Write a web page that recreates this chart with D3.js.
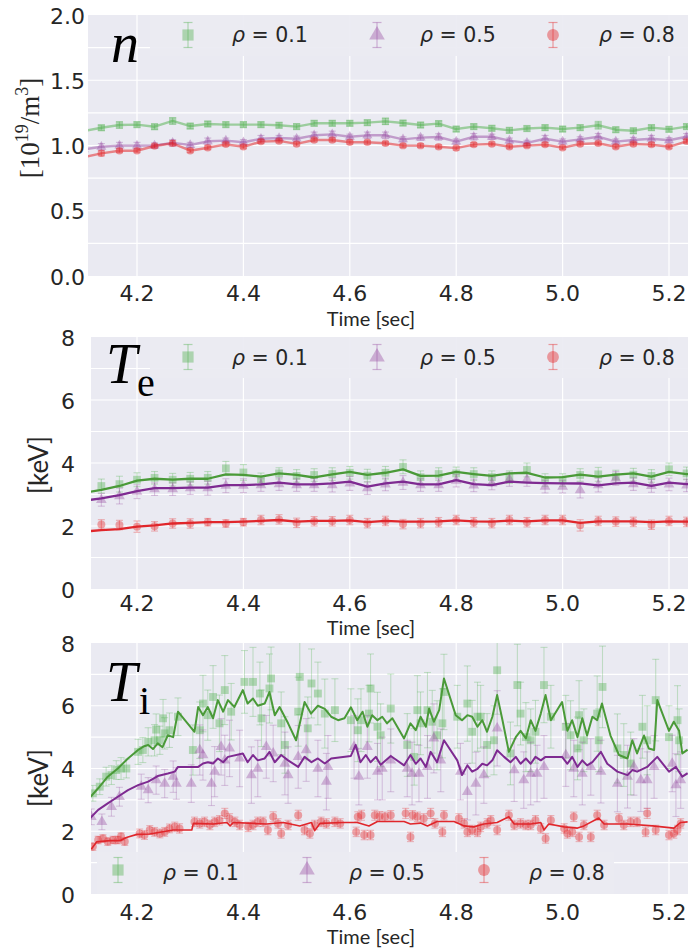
<!DOCTYPE html>
<html><head><meta charset="utf-8">
<script src="https://cdn.jsdelivr.net/npm/d3@7"></script>
<style>body{margin:0;background:#fff} svg{display:block}</style>
</head><body><svg id="c" width="688" height="951"></svg>
<script>
// ---------------- DATA ----------------
const xTicks = [4.2, 4.4, 4.6, 4.8, 5.0, 5.2];
const nTicks = [0.0, 0.5, 1.0, 1.5, 2.0];
const nGrid = [0.25, 0.5, 0.75, 1.0, 1.25, 1.5, 1.75];
const tTicks = [0, 2, 4, 6, 8];
const tGrid = [1, 2, 3, 4, 5, 6, 7];
const seriesLabels = ["0.1", "0.5", "0.8"];

// profile times (panels n and Te)
const tP = [4.100,4.133,4.167,4.200,4.233,4.267,4.300,4.333,4.367,4.400,4.433,4.467,4.500,4.533,4.567,4.600,4.633,4.667,4.700,4.733,4.767,4.800,4.833,4.867,4.900,4.933,4.967,5.000,5.033,5.067,5.100,5.133,5.167,5.200,5.233,5.267];

// density [1e19/m3]
const nGreen  = [1.11,1.136,1.157,1.16,1.144,1.188,1.149,1.165,1.16,1.16,1.16,1.155,1.145,1.17,1.17,1.17,1.175,1.185,1.172,1.157,1.168,1.126,1.145,1.132,1.116,1.13,1.137,1.126,1.137,1.155,1.121,1.113,1.137,1.124,1.145,1.15];
const nPurple = [0.97,0.99,0.999,0.999,1.0,1.02,1.004,1.032,1.037,1.025,1.052,1.057,1.052,1.078,1.085,1.067,1.078,1.078,1.047,1.06,1.065,1.03,1.067,1.067,1.037,1.02,1.052,1.03,1.047,1.067,1.03,1.042,1.052,1.04,1.067,1.07];
const nRed    = [0.91,0.94,0.96,0.96,0.996,1.017,0.96,0.983,1.009,0.99,1.03,1.035,1.012,1.042,1.042,1.025,1.025,1.017,0.999,0.999,0.99,0.98,1.007,1.012,0.99,0.999,1.007,0.983,1.012,1.017,0.99,1.012,1.007,0.99,1.032,1.04];
const nGreenErr  = [0.02,0.02,0.025,0.02,0.02,0.025,0.02,0.02,0.02,0.02,0.02,0.02,0.02,0.02,0.02,0.02,0.02,0.025,0.02,0.02,0.02,0.02,0.02,0.02,0.02,0.02,0.02,0.02,0.02,0.03,0.02,0.02,0.02,0.02,0.02,0.02];
const nPurpleErr = [0.02,0.025,0.025,0.025,0.02,0.025,0.02,0.025,0.02,0.02,0.025,0.02,0.02,0.025,0.025,0.02,0.025,0.025,0.02,0.02,0.025,0.02,0.025,0.02,0.02,0.02,0.025,0.02,0.02,0.025,0.02,0.02,0.025,0.02,0.025,0.02];
const nRedErr    = [0.015,0.02,0.015,0.015,0.015,0.02,0.015,0.015,0.015,0.015,0.015,0.015,0.015,0.015,0.015,0.015,0.015,0.015,0.015,0.015,0.015,0.015,0.015,0.015,0.015,0.015,0.015,0.015,0.015,0.015,0.015,0.015,0.015,0.015,0.015,0.015];

// electron temperature [keV]: data points and profile lines
const teGreen  = [3.15,3.27,3.33,3.47,3.53,3.47,3.50,3.53,3.83,3.70,3.48,3.67,3.59,3.62,3.65,3.69,3.60,3.69,3.88,3.55,3.65,3.67,3.65,3.55,3.55,3.78,3.46,3.46,3.62,3.64,3.57,3.63,3.59,3.80,3.67,3.62];
const tePurple = [2.75,2.83,2.95,3.09,3.17,3.17,3.20,3.20,3.28,3.28,3.30,3.33,3.30,3.30,3.30,3.35,3.20,3.32,3.38,3.30,3.30,3.44,3.29,3.35,3.48,3.48,3.25,3.25,3.14,3.30,3.51,3.33,3.27,3.32,3.29,3.30];
const teRed    = [2.00,2.05,2.03,1.98,1.99,2.08,2.08,2.12,2.08,2.12,2.19,2.21,2.10,2.15,2.15,2.19,2.09,2.16,2.06,2.09,2.12,2.19,2.12,2.09,2.19,2.12,2.19,2.19,2.02,2.16,2.14,2.13,2.04,2.16,2.13,2.15];
const teGreenErr  = [0.2,0.22,0.25,0.22,0.2,0.2,0.2,0.2,0.22,0.25,0.2,0.18,0.2,0.2,0.2,0.2,0.2,0.2,0.22,0.2,0.2,0.2,0.2,0.2,0.2,0.22,0.2,0.2,0.2,0.22,0.2,0.2,0.2,0.2,0.2,0.2];
const tePurpleErr = [0.2,0.2,0.25,0.22,0.2,0.2,0.2,0.22,0.22,0.22,0.2,0.2,0.2,0.2,0.22,0.22,0.2,0.2,0.22,0.2,0.2,0.2,0.2,0.2,0.22,0.22,0.2,0.2,0.25,0.22,0.22,0.2,0.2,0.2,0.2,0.2];
const teRedErr    = [0.15,0.15,0.15,0.18,0.15,0.15,0.15,0.12,0.12,0.12,0.15,0.15,0.15,0.15,0.15,0.15,0.15,0.15,0.15,0.15,0.15,0.15,0.15,0.15,0.15,0.15,0.15,0.15,0.18,0.15,0.15,0.15,0.15,0.15,0.15,0.15];
const teGreenFit  = [3.05,3.15,3.27,3.44,3.50,3.47,3.50,3.50,3.64,3.62,3.57,3.67,3.62,3.54,3.64,3.72,3.62,3.69,3.80,3.59,3.60,3.72,3.65,3.59,3.67,3.69,3.54,3.55,3.63,3.57,3.63,3.67,3.57,3.72,3.65,3.62];
const tePurpleFit = [2.80,2.88,2.98,3.11,3.20,3.20,3.22,3.22,3.30,3.30,3.32,3.38,3.32,3.32,3.35,3.41,3.25,3.35,3.41,3.32,3.32,3.46,3.33,3.30,3.41,3.38,3.36,3.35,3.35,3.29,3.35,3.38,3.27,3.38,3.33,3.30];
const teRedFit    = [1.82,1.87,1.90,1.98,2.02,2.08,2.10,2.12,2.12,2.14,2.16,2.19,2.14,2.16,2.16,2.18,2.12,2.16,2.14,2.14,2.15,2.18,2.15,2.14,2.17,2.15,2.18,2.18,2.10,2.15,2.15,2.15,2.12,2.15,2.14,2.14];

// ion temperature [keV]: points [time, value, error]
const tiGreenPts = [[4.117,3.21,0.25],[4.130,3.42,0.25],[4.142,3.74,0.3],[4.152,3.79,0.3],[4.161,3.95,0.3],[4.170,4.00,0.35],[4.180,4.00,0.3],[4.202,4.53,0.4],[4.211,4.59,0.4],[4.221,4.85,0.45],[4.233,4.90,0.5],[4.236,5.24,0.5],[4.243,4.90,0.45],[4.249,5.60,0.6],[4.252,5.12,0.5],[4.261,5.22,0.55],[4.277,5.65,0.6],[4.305,4.59,0.8],[4.318,5.22,0.9],[4.324,6.07,0.9],[4.333,5.70,0.8],[4.343,6.28,1.0],[4.355,5.44,0.9],[4.365,6.50,1.1],[4.377,5.81,0.9],[4.402,6.76,1.0],[4.418,6.76,1.1],[4.431,6.39,1.0],[4.434,5.60,0.9],[4.449,6.55,1.1],[4.452,6.87,1.0],[4.471,5.44,1.0],[4.478,4.75,0.9],[4.503,5.81,1.1],[4.506,6.92,1.2],[4.521,5.28,1.0],[4.528,6.71,1.1],[4.540,6.39,1.0],[4.553,5.75,1.1],[4.572,5.86,1.0],[4.602,5.54,1.0],[4.615,5.22,1.0],[4.621,5.54,1.0],[4.636,5.75,0.9],[4.639,6.55,1.1],[4.652,5.33,1.1],[4.658,5.06,1.0],[4.677,5.91,1.1],[4.708,4.75,1.0],[4.721,4.37,0.9],[4.727,5.86,1.1],[4.733,5.44,1.0],[4.746,5.86,1.2],[4.755,5.49,1.0],[4.764,5.06,1.1],[4.774,5.44,1.1],[4.777,6.44,1.2],[4.802,5.65,1.0],[4.821,6.07,1.2],[4.830,5.17,1.0],[4.840,5.65,1.1],[4.846,5.65,1.0],[4.858,4.75,1.0],[4.871,4.90,1.1],[4.877,7.13,1.4],[4.902,4.48,1.0],[4.915,6.66,1.3],[4.921,5.75,1.0],[4.931,5.00,1.1],[4.940,4.90,1.0],[4.949,5.17,1.0],[4.965,6.66,1.2],[4.978,5.65,1.0],[5.006,5.33,1.0],[5.015,5.06,1.1],[5.028,4.64,1.0],[5.031,5.70,1.1],[5.040,4.90,1.0],[5.065,5.75,1.2],[5.068,4.90,1.0],[5.075,6.60,1.3],[5.103,4.64,1.1],[5.115,4.43,1.0],[5.128,4.16,1.0],[5.150,5.33,1.0],[5.159,4.90,1.1],[5.175,6.18,1.3],[5.200,5.00,1.0],[5.216,5.54,1.1],[5.219,4.90,1.0]];
const tiPurplePts = [[4.114,2.46,0.25],[4.134,2.30,0.25],[4.152,2.78,0.3],[4.167,3.10,0.3],[4.208,3.42,0.4],[4.221,3.31,0.4],[4.236,3.63,0.45],[4.252,3.52,0.45],[4.268,3.74,0.5],[4.274,3.52,0.5],[4.302,3.52,0.6],[4.318,4.59,0.8],[4.324,4.43,0.8],[4.340,3.52,0.7],[4.346,3.90,0.8],[4.358,4.69,0.9],[4.365,4.26,0.8],[4.374,4.64,0.9],[4.393,4.32,0.9],[4.415,3.79,0.9],[4.427,4.00,0.9],[4.443,4.69,1.0],[4.456,4.48,0.9],[4.478,4.16,1.0],[4.484,3.79,0.9],[4.503,4.37,1.0],[4.518,4.59,1.0],[4.540,4.00,0.9],[4.556,3.58,0.9],[4.559,4.05,1.0],[4.608,4.69,1.0],[4.617,3.74,0.9],[4.633,4.69,1.0],[4.652,3.90,0.9],[4.661,4.00,1.0],[4.677,4.26,1.0],[4.708,4.00,0.9],[4.717,3.84,1.0],[4.730,3.84,0.9],[4.746,4.05,1.0],[4.758,4.96,1.1],[4.771,4.26,1.0],[4.808,3.90,0.9],[4.821,3.26,0.9],[4.837,3.52,1.0],[4.852,3.79,0.9],[4.877,5.28,1.2],[4.909,3.95,1.0],[4.927,3.63,0.9],[4.940,3.84,1.0],[4.952,3.84,0.9],[4.965,4.05,1.0],[5.006,4.43,1.0],[5.021,4.00,0.9],[5.037,3.84,1.0],[5.053,4.05,0.9],[5.072,3.90,1.0],[5.103,3.52,0.9],[5.122,3.74,1.0],[5.134,4.05,0.9],[5.147,3.63,1.0],[5.159,3.63,0.9],[5.172,4.05,1.0],[5.206,4.16,0.9],[5.213,3.47,1.0],[5.222,3.63,0.9]];
const tiRedPts = [[4.117,1.51,0.12],[4.127,1.72,0.12],[4.136,1.77,0.12],[4.145,1.67,0.12],[4.155,1.72,0.12],[4.164,1.72,0.12],[4.170,1.83,0.12],[4.177,1.67,0.12],[4.205,1.93,0.14],[4.214,1.88,0.14],[4.224,2.04,0.14],[4.233,1.98,0.14],[4.243,1.93,0.14],[4.252,1.98,0.14],[4.261,2.09,0.14],[4.271,2.14,0.15],[4.280,2.09,0.15],[4.308,2.30,0.15],[4.318,2.25,0.15],[4.327,2.30,0.15],[4.337,2.20,0.15],[4.346,2.30,0.15],[4.355,2.35,0.15],[4.365,2.57,0.16],[4.374,2.41,0.15],[4.384,2.30,0.15],[4.393,2.20,0.15],[4.409,2.14,0.15],[4.418,2.20,0.15],[4.427,2.30,0.15],[4.437,2.30,0.15],[4.446,2.04,0.15],[4.456,2.46,0.16],[4.465,2.25,0.15],[4.471,1.93,0.15],[4.484,2.20,0.15],[4.503,2.51,0.16],[4.515,2.04,0.15],[4.525,1.93,0.15],[4.534,2.20,0.15],[4.546,2.30,0.15],[4.556,2.25,0.15],[4.572,2.30,0.15],[4.582,2.25,0.15],[4.612,1.98,0.15],[4.615,2.46,0.16],[4.622,2.51,0.16],[4.627,1.88,0.15],[4.639,1.88,0.15],[4.647,2.51,0.16],[4.656,2.48,0.15],[4.666,2.46,0.15],[4.677,2.51,0.15],[4.705,2.57,0.16],[4.714,1.82,0.15],[4.718,2.51,0.15],[4.727,2.46,0.15],[4.739,2.41,0.15],[4.752,2.57,0.16],[4.760,2.25,0.15],[4.774,1.98,0.15],[4.777,2.51,0.15],[4.805,2.41,0.15],[4.815,2.25,0.15],[4.821,1.98,0.15],[4.830,2.04,0.15],[4.840,1.98,0.15],[4.846,2.14,0.15],[4.858,2.25,0.15],[4.865,2.35,0.15],[4.877,2.04,0.15],[4.899,2.51,0.16],[4.909,2.20,0.15],[4.921,2.25,0.15],[4.931,2.20,0.15],[4.940,2.20,0.15],[4.949,2.35,0.15],[4.959,2.09,0.15],[4.968,1.77,0.15],[4.978,2.35,0.15],[5.003,2.09,0.15],[5.009,1.93,0.15],[5.018,1.98,0.15],[5.021,2.46,0.15],[5.031,1.82,0.15],[5.040,2.20,0.15],[5.053,1.82,0.15],[5.065,2.51,0.16],[5.078,2.20,0.15],[5.106,2.41,0.15],[5.115,2.20,0.15],[5.128,2.30,0.15],[5.140,2.30,0.15],[5.156,1.98,0.15],[5.159,2.57,0.16],[5.175,2.04,0.15],[5.200,1.88,0.15],[5.209,1.93,0.15],[5.216,2.04,0.15],[5.222,2.25,0.15]];
// ion temperature profile lines [time, value]
const tiGreenFit = [[4.105,2.95],[4.127,3.37],[4.145,3.74],[4.164,4.00],[4.183,4.32],[4.202,4.59],[4.212,4.70],[4.221,4.75],[4.230,4.62],[4.239,4.80],[4.248,4.68],[4.258,5.06],[4.268,5.00],[4.277,5.81],[4.290,5.54],[4.308,5.17],[4.315,5.96],[4.324,5.70],[4.333,5.96],[4.343,5.60],[4.352,6.18],[4.362,5.81],[4.371,6.18],[4.383,5.96],[4.399,6.50],[4.408,6.07],[4.418,6.23],[4.427,6.00],[4.440,6.07],[4.449,6.44],[4.459,5.70],[4.468,5.96],[4.484,5.44],[4.499,4.90],[4.515,6.12],[4.527,5.75],[4.540,6.00],[4.553,5.90],[4.565,5.65],[4.578,5.54],[4.590,5.60],[4.602,5.95],[4.614,5.54],[4.624,5.81],[4.633,5.33],[4.642,5.70],[4.652,5.54],[4.661,5.65],[4.670,5.44],[4.680,5.60],[4.702,4.96],[4.714,5.44],[4.724,5.22],[4.733,5.65],[4.743,5.33],[4.749,5.91],[4.758,5.49],[4.768,5.86],[4.777,6.87],[4.799,5.70],[4.811,5.54],[4.821,5.70],[4.830,5.65],[4.840,5.33],[4.849,5.54],[4.858,5.17],[4.868,5.65],[4.877,6.34],[4.887,5.54],[4.899,4.53],[4.912,5.00],[4.921,5.20],[4.931,4.96],[4.940,5.54],[4.949,5.20],[4.959,5.75],[4.968,6.34],[4.978,5.54],[4.999,6.12],[5.009,5.20],[5.018,5.54],[5.028,5.00],[5.037,5.60],[5.046,5.05],[5.056,5.65],[5.065,5.54],[5.074,6.07],[5.090,5.05],[5.106,4.43],[5.122,4.32],[5.131,4.90],[5.140,4.48],[5.153,5.05],[5.162,4.64],[5.172,4.59],[5.178,6.18],[5.200,5.20],[5.209,5.49],[5.219,5.20],[5.225,4.48],[5.235,4.60]];
const tiPurpleFit = [[4.105,2.30],[4.127,2.68],[4.145,2.89],[4.164,3.10],[4.183,3.31],[4.202,3.47],[4.221,3.58],[4.239,3.76],[4.258,3.84],[4.271,3.90],[4.277,4.05],[4.296,4.05],[4.315,4.05],[4.324,4.16],[4.333,4.20],[4.343,4.16],[4.352,4.32],[4.362,4.20],[4.371,4.37],[4.399,4.48],[4.408,4.20],[4.418,4.43],[4.427,4.26],[4.440,4.32],[4.449,4.53],[4.459,4.20],[4.471,4.43],[4.484,4.26],[4.503,4.05],[4.515,4.37],[4.528,4.20],[4.540,4.32],[4.553,4.16],[4.565,4.32],[4.602,4.40],[4.611,4.75],[4.620,4.20],[4.630,4.43],[4.639,4.20],[4.649,4.37],[4.658,4.12],[4.677,4.40],[4.702,4.10],[4.714,4.43],[4.724,4.15],[4.733,4.32],[4.743,4.05],[4.752,4.53],[4.764,4.20],[4.777,4.90],[4.802,4.26],[4.811,3.79],[4.821,4.10],[4.830,3.90],[4.840,3.99],[4.849,4.15],[4.858,4.10],[4.868,4.26],[4.877,4.58],[4.890,4.37],[4.902,4.20],[4.912,4.37],[4.921,4.15],[4.931,4.32],[4.940,4.15],[4.949,4.37],[4.959,4.26],[4.968,4.37],[4.999,4.37],[5.009,4.15],[5.018,4.37],[5.028,4.05],[5.037,4.26],[5.046,4.10],[5.056,4.20],[5.072,4.53],[5.084,4.15],[5.103,3.90],[5.122,3.79],[5.131,3.95],[5.140,3.90],[5.159,4.05],[5.178,4.37],[5.200,3.90],[5.213,4.05],[5.225,3.74],[5.235,3.85]];
const tiRedFit = [[4.105,1.40],[4.115,1.45],[4.124,1.66],[4.149,1.70],[4.168,1.70],[4.180,1.80],[4.200,1.90],[4.224,1.91],[4.268,2.04],[4.303,2.04],[4.306,2.25],[4.343,2.23],[4.369,2.28],[4.375,2.17],[4.381,2.28],[4.419,2.25],[4.444,2.23],[4.475,2.28],[4.506,2.17],[4.528,2.28],[4.534,2.02],[4.544,2.25],[4.588,2.28],[4.614,2.28],[4.636,2.17],[4.652,2.31],[4.702,2.31],[4.714,2.23],[4.733,2.26],[4.746,2.17],[4.764,2.31],[4.796,2.31],[4.815,2.17],[4.833,2.14],[4.852,2.23],[4.877,2.28],[4.899,2.46],[4.909,2.23],[4.940,2.23],[4.959,2.28],[4.965,2.04],[4.974,2.23],[5.003,2.14],[5.028,2.10],[5.040,2.17],[5.068,2.42],[5.078,2.23],[5.122,2.23],[5.169,2.17],[5.209,2.10],[5.222,2.28],[5.235,2.30]];

// ---------------- STYLE ----------------
const MK = ["#4daf4a", "#984ea3", "#e41a1c"];
const LN = ["#4a9a38", "#7e2a91", "#e0262b"];
const SYM = [d3.symbolSquare, d3.symbolTriangle, d3.symbolCircle];
const BG = "#eaeaf2", TXT = "#262626";
const TICKFONT = "'DejaVu Sans', sans-serif";
const LABFONT = "Lato, 'Open Sans', sans-serif";

const svg = d3.select("#c");
svg.append("rect").attr("width", 688).attr("height", 951).attr("fill", "#fff");
let clipId = 0;

function makePanel(p) {
  const g = svg.append("g");
  const x = d3.scaleLinear().domain([4.2, 5.2]).range([137, 669]);
  const y = d3.scaleLinear().domain([0, p.ymax]).range([p.bottom, p.top]);
  g.append("rect").attr("x", p.left).attr("y", p.top).attr("width", p.right - p.left)
    .attr("height", p.bottom - p.top).attr("fill", BG);
  const id = "clip" + (clipId++);
  g.append("clipPath").attr("id", id).append("rect")
    .attr("x", p.left).attr("y", p.top).attr("width", p.right - p.left).attr("height", p.bottom - p.top);
  g.selectAll(".hg").data(p.grid).join("line")
    .attr("x1", p.left).attr("x2", p.right).attr("y1", d => y(d)).attr("y2", d => y(d))
    .attr("stroke", "#fff").attr("stroke-width", 1.2);
  g.selectAll(".vg").data(xTicks).join("line")
    .attr("x1", d => x(d)).attr("x2", d => x(d)).attr("y1", p.top).attr("y2", p.bottom)
    .attr("stroke", "#fff").attr("stroke-width", 1.2);
  g.selectAll(".yt").data(p.ticks).join("text")
    .attr("x", p.ylabX).attr("y", d => y(d) + 8.5).attr("text-anchor", "end")
    .attr("font-family", TICKFONT).attr("font-size", 22).attr("fill", TXT)
    .text(d => p.fmt(d));
  g.selectAll(".xt").data(xTicks).join("text")
    .attr("x", d => x(d)).attr("y", p.xtBase).attr("text-anchor", "middle")
    .attr("font-family", TICKFONT).attr("font-size", 22).attr("fill", TXT)
    .text(d => d3.format(".1f")(d));
  g.append("text").attr("x", 371).attr("y", p.xlBase).attr("text-anchor", "middle")
    .attr("font-family", LABFONT).attr("font-size", 20).attr("fill", TXT).text("Time [sec]");
  const plot = g.append("g").attr("clip-path", `url(#${id})`);
  return { g, plot, x, y };
}

function drawErrMarkers(plot, x, y, pts, i, size, cap, errOp, mkOp) {
  const eg = plot.append("g").attr("stroke", MK[i]).attr("stroke-opacity", errOp).attr("stroke-width", 1.1);
  pts.forEach(d => {
    const xx = x(d[0]), y0 = y(d[1] - d[2]), y1 = y(d[1] + d[2]);
    eg.append("line").attr("x1", xx).attr("x2", xx).attr("y1", y0).attr("y2", y1);
    eg.append("line").attr("x1", xx - cap).attr("x2", xx + cap).attr("y1", y0).attr("y2", y0);
    eg.append("line").attr("x1", xx - cap).attr("x2", xx + cap).attr("y1", y1).attr("y2", y1);
  });
  plot.append("g").selectAll("path").data(pts).join("path")
    .attr("d", d3.symbol().type(SYM[i]).size(size[i]))
    .attr("transform", d => `translate(${x(d[0])},${y(d[1])})`)
    .attr("fill", MK[i]).attr("fill-opacity", mkOp);
}

function drawLine(plot, x, y, pts, color, width, op) {
  plot.append("path").datum(pts)
    .attr("d", d3.line().x(d => x(d[0])).y(d => y(d[1])))
    .attr("fill", "none").attr("stroke", color).attr("stroke-width", width)
    .attr("stroke-opacity", op).attr("stroke-linejoin", "round");
}

function legend(g, box, mx, tx, my, base) {
  g.append("rect").attr("x", box[0]).attr("y", box[1]).attr("width", box[2]).attr("height", box[3])
    .attr("fill", BG).attr("fill-opacity", 0.92);
  const lsize = [125, 105, 110];
  seriesLabels.forEach((lab, i) => {
    const e = g.append("g").attr("stroke", MK[i]).attr("stroke-opacity", 0.4).attr("stroke-width", 1.2);
    e.append("line").attr("x1", mx[i]).attr("x2", mx[i]).attr("y1", my - 12.5).attr("y2", my + 12.5);
    e.append("line").attr("x1", mx[i] - 4.5).attr("x2", mx[i] + 4.5).attr("y1", my - 12.5).attr("y2", my - 12.5);
    e.append("line").attr("x1", mx[i] - 4.5).attr("x2", mx[i] + 4.5).attr("y1", my + 12.5).attr("y2", my + 12.5);
    g.append("path").attr("d", d3.symbol().type(SYM[i]).size(lsize[i])())
      .attr("transform", `translate(${mx[i]},${my})`).attr("fill", MK[i]).attr("fill-opacity", 0.4);
    const t = g.append("text").attr("x", tx[i]).attr("y", base)
      .attr("font-family", "'DejaVu Sans', sans-serif").attr("font-size", 20.5).attr("fill", TXT);
    t.append("tspan").attr("font-style", "italic").text("ρ");
    t.append("tspan").text(" = " + lab);
  });
}

function bigLabel(g, x0, base, main, sub, subX, subBase) {
  const ff = "'Liberation Serif', 'DejaVu Serif', serif";
  g.append("text").attr("x", x0).attr("y", base).attr("font-family", ff)
    .attr("font-style", "italic").attr("font-size", 56).attr("fill", "#000").text(main);
  if (sub) g.append("text").attr("x", subX).attr("y", subBase).attr("font-family", ff)
    .attr("font-size", 40).attr("fill", "#000").text(sub);
}

// ---------------- PANEL 1: density ----------------
{
  const P = makePanel({ top: 15, bottom: 276, left: 88, right: 688, ymax: 2.0, grid: nGrid, ticks: nTicks,
    fmt: d3.format(".1f"), ylabX: 85, xtBase: 301, xlBase: 326 });
  const sets = [nGreen, nPurple, nRed], errs = [nGreenErr, nPurpleErr, nRedErr];
  sets.forEach((s, i) => {
    const pts = tP.map((t, k) => [t, s[k], errs[i][k]]);
    drawLine(P.plot, P.x, P.y, pts, MK[i], 2.4, 0.5);
    drawErrMarkers(P.plot, P.x, P.y, pts, i, [52, 44, 44], 3.5, 0.35, 0.4);
  });
  legend(P.g, [150, 15, 538, 41], [188, 377, 553], [232, 420, 599], 35, 42);
  bigLabel(P.g, 111, 62, "n");
  const yl = P.g.append("text").attr("transform", "translate(39,128) rotate(-90)")
    .attr("text-anchor", "middle").attr("font-family", "'Liberation Serif', 'DejaVu Serif', serif")
    .attr("font-size", 27).attr("fill", TXT);
  yl.append("tspan").text("[10");
  yl.append("tspan").attr("font-size", 18).attr("dy", -11).text("19");
  yl.append("tspan").attr("dy", 11).text("/m");
  yl.append("tspan").attr("font-size", 18).attr("dy", -11).text("3");
  yl.append("tspan").attr("dy", 11).text("]");
}

// ---------------- PANEL 2: Te ----------------
{
  const P = makePanel({ top: 337, bottom: 589, left: 91, right: 688, ymax: 8, grid: tGrid, ticks: tTicks,
    fmt: d3.format("d"), ylabX: 75, xtBase: 611, xlBase: 635 });
  const sets = [teGreen, tePurple, teRed], errs = [teGreenErr, tePurpleErr, teRedErr];
  const fits = [teGreenFit, tePurpleFit, teRedFit];
  sets.forEach((s, i) => {
    const pts = tP.map((t, k) => [t, s[k], errs[i][k]]);
    drawErrMarkers(P.plot, P.x, P.y, pts, i, [60, 50, 50], 3.5, 0.3, 0.38);
  });
  fits.forEach((f, i) => drawLine(P.plot, P.x, P.y, tP.map((t, k) => [t, f[k]]), LN[i], 2.3, 1));
  legend(P.g, [150, 337, 538, 41], [188, 377, 553], [232, 420, 599], 357, 365);
  bigLabel(P.g, 106, 383, "T", "e", 137, 396);
  P.g.append("text").attr("transform", "translate(48,465) rotate(-90)").attr("text-anchor", "middle")
    .attr("font-family", LABFONT).attr("font-size", 26).attr("fill", TXT).text("[keV]");
}

// ---------------- PANEL 3: Ti ----------------
{
  const P = makePanel({ top: 643, bottom: 894, left: 91, right: 688, ymax: 8, grid: tGrid, ticks: tTicks,
    fmt: d3.format("d"), ylabX: 75, xtBase: 920, xlBase: 944 });
  const sets = [tiGreenPts, tiPurplePts, tiRedPts];
  sets.forEach((pts, i) => drawErrMarkers(P.plot, P.x, P.y, pts, i, [62, 52, 50], 3.5, 0.28, 0.38));
  [tiGreenFit, tiPurpleFit, tiRedFit].forEach((f, i) => drawLine(P.plot, P.x, P.y, f, LN[i], i === 2 ? 1.6 : 2, 1));
  legend(P.g, [97, 852, 517, 42], [118, 307, 484], [163, 349, 529], 870, 880);
  bigLabel(P.g, 106, 701, "T", "i", 139, 714);
  P.g.append("text").attr("transform", "translate(48,778) rotate(-90)").attr("text-anchor", "middle")
    .attr("font-family", LABFONT).attr("font-size", 26).attr("fill", TXT).text("[keV]");
}
</script></body></html>
